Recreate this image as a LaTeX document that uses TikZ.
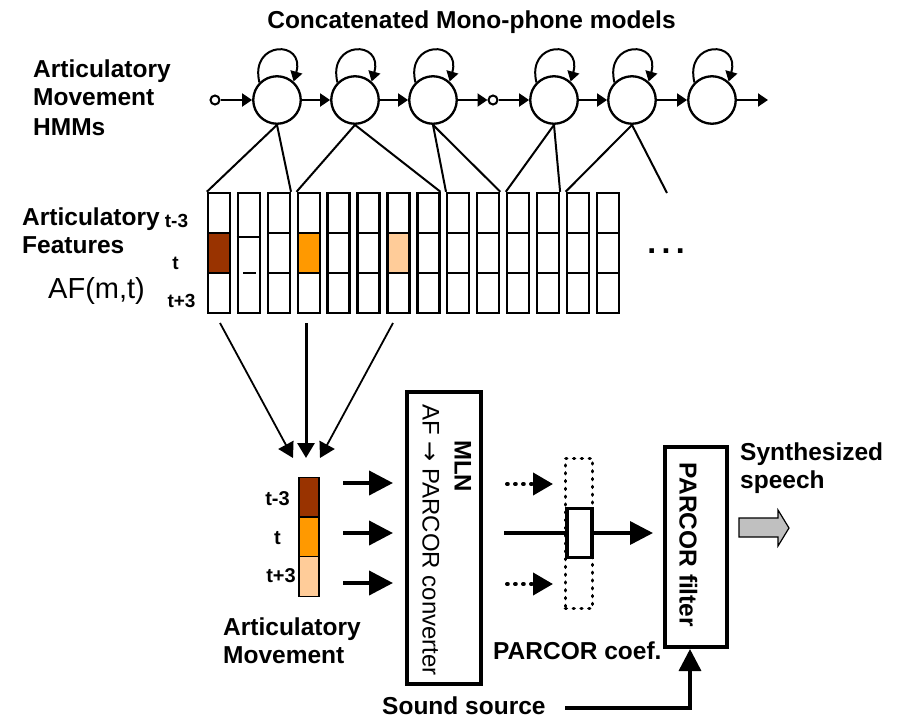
\documentclass[tikz,border=0pt]{standalone}
\usepackage{fontspec}
\setmainfont{Liberation Sans}
\newfontfamily\dejavu{DejaVu Sans}
\usetikzlibrary{arrows.meta,calc}
\definecolor{amdark}{HTML}{993300}
\definecolor{ammid}{HTML}{FF9900}
\definecolor{amlight}{HTML}{FFCC99}
\definecolor{grayarrow}{HTML}{C0C0C0}
\begin{document}
\begin{tikzpicture}[x=1pt,y=-1pt,
  hmmstate/.style={circle,draw,line width=2.3pt,minimum size=47.5pt,inner sep=0pt},
  endpt/.style={circle,draw,line width=2pt,minimum size=9pt,inner sep=0pt},
  hmmarrow/.style={line width=2pt,-{Triangle[length=10pt,width=13pt]}},
  looparrow/.style={line width=2pt,-{Triangle[length=10pt,width=12pt]}},
  conn/.style={line width=2pt},
  colbox/.style={rectangle,draw,line width=2.4pt,minimum width=22pt,minimum height=120pt,inner sep=0pt},
  cellline/.style={line width=2.4pt},
  amcell/.style={rectangle,draw,line width=1.3pt,minimum width=20pt,minimum height=39.7pt,inner sep=0pt},
  thinarrow/.style={line width=1.8pt,-{Triangle[length=15pt,width=17pt]}},
  thickarrow/.style={line width=3pt,-{Triangle[length=15pt,width=17pt]}},
  bigarrow/.style={line width=4pt,-{Triangle[length=24pt,width=24pt]}},
  dotarrow/.style={line width=4pt,line cap=round,dash pattern=on 0.8pt off 7.2pt,-{Triangle[length=20pt,width=22pt]}},
  midarrow/.style={line width=3.5pt,-{Triangle[length=23pt,width=23pt]}},
  lbl/.style={inner sep=0pt,anchor=base west,font=\bfseries\fontsize{24.5}{28}\selectfont},
  tlbl/.style={inner sep=0pt,anchor=base,font=\bfseries\fontsize{19}{22}\selectfont},
  thickbox/.style={rectangle,draw,line width=3.3pt,inner sep=0pt}
]
\useasboundingbox (0,0) rectangle (906,718);

% title
\node[lbl,anchor=base] (title) at (471.5,28) {Concatenated Mono-phone models};

% HMM label
\node[lbl] (hl1) at (33,77) {Articulatory};
\node[lbl] (hl2) at (33,105) {Movement};
\node[lbl] (hl3) at (33,135) {HMMs};

% HMM chain
\node[endpt] (s1) at (215,100) {};
\node[hmmstate] (c1) at (277,100) {};
\node[hmmstate] (c2) at (355,100) {};
\node[hmmstate] (c3) at (433,100) {};
\node[endpt] (s2) at (493,100) {};
\node[hmmstate] (c4) at (554,100) {};
\node[hmmstate] (c5) at (632,100) {};
\node[hmmstate] (c6) at (712,100) {};
\coordinate (hend) at (768,100);

\draw[hmmarrow] (s1) -- (c1);
\draw[hmmarrow] (c1) -- (c2);
\draw[hmmarrow] (c2) -- (c3);
\draw[hmmarrow] (c3) -- (s2);
\draw[hmmarrow] (s2) -- (c4);
\draw[hmmarrow] (c4) -- (c5);
\draw[hmmarrow] (c5) -- (c6);
\draw[hmmarrow] (c6) -- (hend);

\foreach \c in {c1,c2,c3,c4,c5,c6}{
  \draw[looparrow] (\c.135) .. controls +(-10,-42) and +(12,-42) .. (\c.48);
}

% feature labels
\node[lbl] (fl1) at (22,225) {Articulatory};
\node[lbl] (fl2) at (22,253) {Features};
\node[inner sep=0pt,anchor=base west,font=\fontsize{29}{33}\selectfont] (fl3) at (48,298) {AF(m,t)};
\node[tlbl] (ft1) at (176.5,227) {t-3};
\node[tlbl] (ft2) at (175.5,269) {t};
\node[tlbl] (ft3) at (181.5,307) {t+3};

% coloured cells
\fill[amdark] (208,233) rectangle (230,273);
\fill[ammid] (297.7,233) rectangle (319.7,273);
\fill[amlight] (387.4,233) rectangle (409.4,273);

% feature columns
\foreach \i in {1,...,14}{
  \pgfmathsetmacro\xl{208+29.9*(\i-1)}
  \node[colbox] (f\i) at ({\xl+11},253) {};
}
\foreach \i in {1,3,4,5,6,7,8,9,10,11,12,13,14}{
  \pgfmathsetmacro\xl{208+29.9*(\i-1)}
  \draw[cellline] (\xl,233) -- ++(22,0);
  \draw[cellline] (\xl,273) -- ++(22,0);
}
\draw[cellline] (f2.west |- 0,237) -- (f2.east |- 0,237);
\draw[cellline] (243,273) -- (256,273);

\node[inner sep=0pt,anchor=base,font=\bfseries\fontsize{32}{36}\selectfont] (dots) at (666,253) {.\hspace{5.3pt}.\hspace{5.3pt}.};

% HMM to features
\coordinate (free) at (667,193);
\draw[conn] (c1.south) -- (f1.north west);
\draw[conn] (c1.south) -- (f3.north east);
\draw[conn] (c2.south) -- (f4.north west);
\draw[conn] (c2.south) -- (f8.north east);
\draw[conn] (c3.south) -- (f9.north west);
\draw[conn] (c3.south) -- (f10.north east);
\draw[conn] (c4.south) -- (f11.north west);
\draw[conn] (c4.south) -- (f12.north east);
\draw[conn] (c5.south) -- (f13.north west);
\draw[conn] (c5.south) -- (free);

% features to articulatory movement
\coordinate (fa1) at (220,323);
\coordinate (fa2) at (306,323);
\coordinate (fa3) at (393,323);
\coordinate (fb1) at (293,458);
\coordinate (fb2) at (306,458);
\coordinate (fb3) at (320,458);
\draw[thinarrow] (fa1) -- (fb1);
\draw[thickarrow] (fa2) -- (fb2);
\draw[thinarrow] (fa3) -- (fb3);

% articulatory movement column
\node[amcell,fill=amdark] (am1) at (309,497) {};
\node[amcell,fill=ammid] (am2) at (309,536.7) {};
\node[amcell,fill=amlight] (am3) at (309,576.4) {};
\node[tlbl,font=\bfseries\fontsize{20}{22}\selectfont] (at1) at (277.5,505) {t-3};
\node[tlbl,font=\bfseries\fontsize{20}{22}\selectfont] (at2) at (277.5,544) {t};
\node[tlbl,font=\bfseries\fontsize{20}{22}\selectfont] (at3) at (281,582) {t+3};
\node[lbl] (aml1) at (223,635) {Articulatory};
\node[lbl] (aml2) at (223,663) {Movement};

% MLN
\node[thickbox,minimum width=74pt,minimum height=292pt] (mln) at (444,538) {};
\node[inner sep=0pt,rotate=-90,font=\bfseries\fontsize{24}{28}\selectfont] (mlnt) at (463,466) {MLN};
\node[inner sep=0pt,rotate=-90,font=\fontsize{24}{28}\selectfont] (mlnc) at (431,540) {AF {\dejavu→} PARCOR converter};

\coordinate (mi1) at (343,483); \coordinate (mo1) at (393,483);
\coordinate (mi2) at (343,533); \coordinate (mo2) at (393,533);
\coordinate (mi3) at (343,583); \coordinate (mo3) at (393,583);
\draw[bigarrow] (mi1) -- (mo1);
\draw[bigarrow] (mi2) -- (mo2);
\draw[bigarrow] (mi3) -- (mo3);

% PARCOR coefficients
\coordinate (di1) at (507,484); \coordinate (do1) at (553,484);
\coordinate (di2) at (507,584); \coordinate (do2) at (553,584);
\draw[dotarrow] (di1) -- (do1);
\draw[dotarrow] (di2) -- (do2);
\node[rectangle,draw,line width=3.6pt,line cap=round,dash pattern=on 0.8pt off 7pt,minimum width=27pt,minimum height=150pt,inner sep=0pt] (pd) at (579,533.5) {};
\node[thickbox,fill=white,minimum width=25pt,minimum height=49pt] (pc) at (579.5,533) {};
\coordinate (ms) at (504,533);
\draw[line width=3.5pt] (ms) -- (pc.west);
\coordinate (pfl) at (653,533);
\draw[midarrow] (pc.east) -- (pfl);
\node[lbl] (pcl) at (493,659) {PARCOR coef.};

% PARCOR filter
\node[thickbox,line width=3.5pt,minimum width=62pt,minimum height=200pt] (pf) at (696,547) {};
\node[inner sep=0pt,rotate=-90,font=\bfseries\fontsize{24.5}{28}\selectfont] (pft) at (688.5,545) {PARCOR filter};

% sound source
\node[lbl] (ssl) at (382,714) {Sound source};
\coordinate (ss) at (565,708);
\coordinate (pfb) at (690,649);
\draw[midarrow,-{Triangle[length=22pt,width=22pt]}] (ss) -| (pfb);

% synthesized speech
\node[lbl] (syn1) at (740,460) {Synthesized};
\node[lbl] (syn2) at (740,488) {speech};
\draw[line width=1.2pt,fill=grayarrow] (739,518) -- (778,518) -- (778,510) -- (789,528) -- (778,546) -- (778,537) -- (739,537) -- cycle;
\end{tikzpicture}
\end{document}
